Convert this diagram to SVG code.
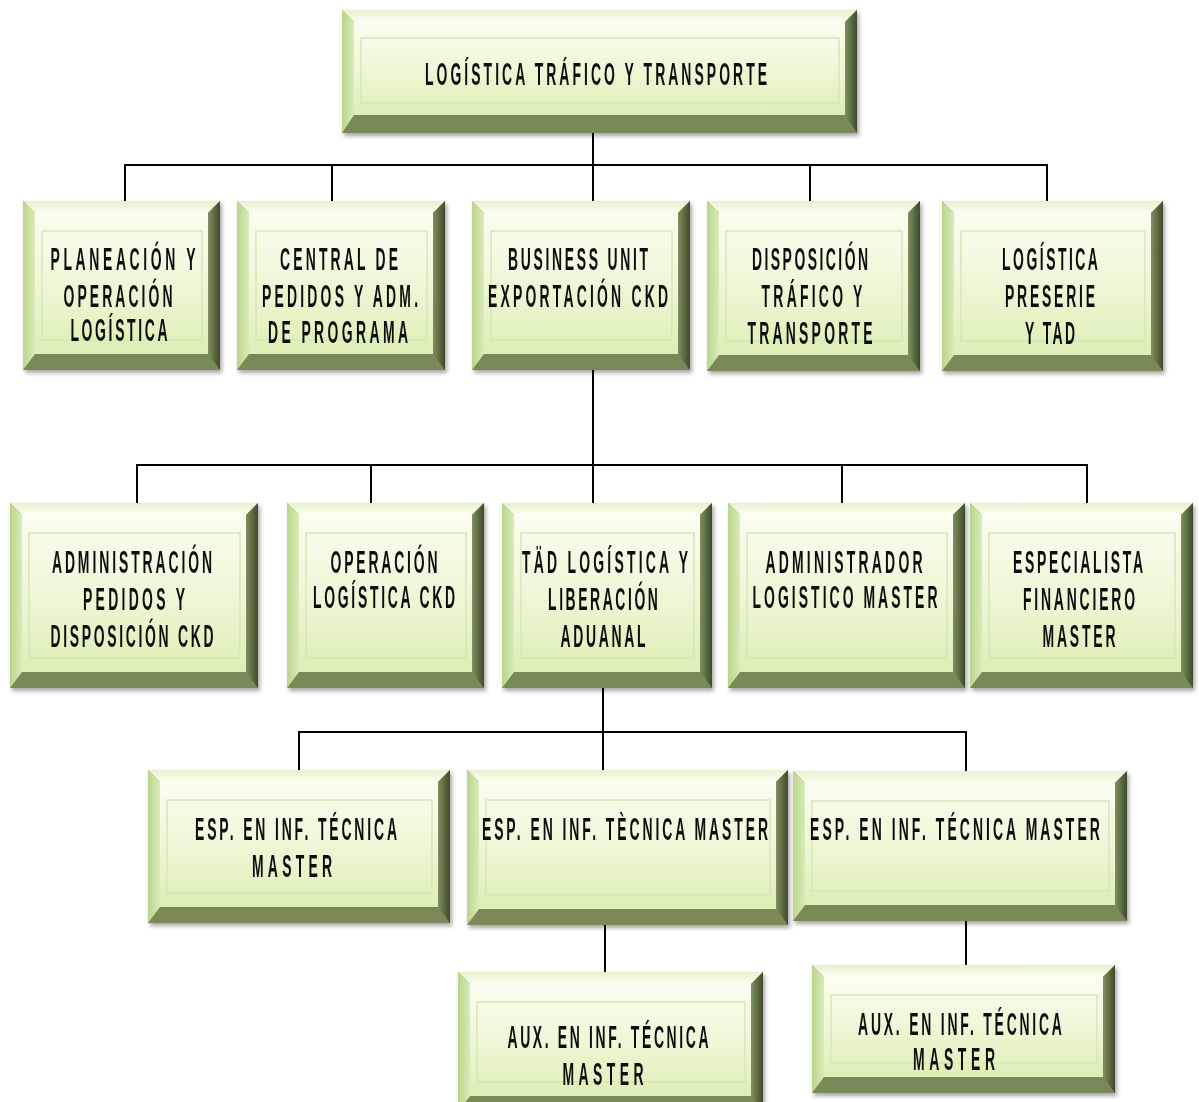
<svg xmlns="http://www.w3.org/2000/svg" width="1199" height="1102" viewBox="0 0 1199 1102">
  <defs>
    <linearGradient id="gTop" x1="0" y1="0" x2="0" y2="1">
      <stop offset="0" stop-color="#e6f2cc"/>
      <stop offset="1" stop-color="#fbfef3"/>
    </linearGradient>
    <linearGradient id="gLeft" x1="0" y1="0" x2="1" y2="0">
      <stop offset="0" stop-color="#b9d58b"/>
      <stop offset="1" stop-color="#d9ebb9"/>
    </linearGradient>
    <linearGradient id="gRight" x1="0" y1="0" x2="1" y2="0">
      <stop offset="0" stop-color="#808f5e"/>
      <stop offset="1" stop-color="#3e4a2a"/>
    </linearGradient>
    <linearGradient id="gFace" x1="0" y1="0" x2="0" y2="1">
      <stop offset="0" stop-color="#fafdf0"/>
      <stop offset="0.45" stop-color="#eff8da"/>
      <stop offset="1" stop-color="#dcefb5"/>
    </linearGradient>
    <filter id="shadow" x="-5%" y="-5%" width="112%" height="115%">
      <feDropShadow dx="2" dy="3" stdDeviation="2" flood-color="#000" flood-opacity="0.35"/>
    </filter>
  </defs>
  <style>
    .node { filter: url(#shadow); }
    .o { fill: #7a8958; }
    .bt { fill: url(#gTop); }
    .bl { fill: url(#gLeft); }
    .br { fill: url(#gRight); }
    .f { fill: url(#gFace); }
    .in { fill: none; stroke: #d6e7b6; stroke-width: 1.5; }
    .t { font-family: "Liberation Sans", Arial, sans-serif; font-weight: bold; font-size: 31px; fill: #111; text-anchor: middle; }
    .c line { stroke: #000; stroke-width: 2; }
  </style>

  <rect width="1199" height="1102" fill="#fff"/>

  <!-- connectors -->
  <g id="connectors" class="c">
    <line x1="593" y1="133" x2="593" y2="165"/>
    <line x1="124" y1="165" x2="1048" y2="165"/>
    <line x1="125" y1="165" x2="125" y2="201"/>
    <line x1="332" y1="165" x2="332" y2="201"/>
    <line x1="593" y1="165" x2="593" y2="201"/>
    <line x1="810" y1="165" x2="810" y2="201"/>
    <line x1="1047" y1="165" x2="1047" y2="201"/>

    <line x1="593" y1="370" x2="593" y2="465"/>
    <line x1="136" y1="465" x2="1088" y2="465"/>
    <line x1="137" y1="465" x2="137" y2="503"/>
    <line x1="371" y1="465" x2="371" y2="503"/>
    <line x1="593" y1="465" x2="593" y2="503"/>
    <line x1="842" y1="465" x2="842" y2="503"/>
    <line x1="1087" y1="465" x2="1087" y2="503"/>

    <line x1="603" y1="688" x2="603" y2="732"/>
    <line x1="298" y1="732" x2="967" y2="732"/>
    <line x1="299" y1="732" x2="299" y2="770"/>
    <line x1="603" y1="732" x2="603" y2="770"/>
    <line x1="966" y1="732" x2="966" y2="771"/>

    <line x1="605" y1="925" x2="605" y2="972"/>
    <line x1="966" y1="921" x2="966" y2="965"/>
  </g>

  <!-- top level -->
  <g id="logistica-trafico-transporte" class="node">
    <rect class="o" x="342" y="10" width="515" height="123"/>
    <polygon class="bt" points="342,10 857,10 845,22 354,22"/>
    <polygon class="bl" points="342,10 354,22 354,115 342,133"/>
    <polygon class="br" points="857,10 857,133 845,115 845,22"/>
    <rect class="f" x="354" y="22" width="491" height="93"/>
    <rect class="in" x="361" y="38" width="478" height="65"/>
    <text class="t" transform="translate(596,85) scale(0.45,1)" textLength="760" lengthAdjust="spacing">LOGÍSTICA TRÁFICO Y TRANSPORTE</text>
  </g>

  <!-- second level -->
  <g id="planeacion-operacion" class="node">
    <rect class="o" x="23" y="201" width="197" height="169"/>
    <polygon class="bt" points="23,201 220,201 208,213 35,213"/>
    <polygon class="bl" points="23,201 35,213 35,354 23,370"/>
    <polygon class="br" points="220,201 220,370 208,354 208,213"/>
    <rect class="f" x="35" y="213" width="173" height="141"/>
    <rect class="in" x="42" y="231" width="160" height="109"/>
    <text class="t" transform="translate(123,270) scale(0.45,1)" textLength="322" lengthAdjust="spacing">PLANEACIÓN Y</text>
    <text class="t" transform="translate(118,307) scale(0.45,1)" textLength="242" lengthAdjust="spacing">OPERACIÓN</text>
    <text class="t" transform="translate(119,341) scale(0.45,1)" textLength="216" lengthAdjust="spacing">LOGÍSTICA</text>
  </g>

  <g id="central-pedidos" class="node">
    <rect class="o" x="237" y="201" width="208" height="169"/>
    <polygon class="bt" points="237,201 445,201 433,213 249,213"/>
    <polygon class="bl" points="237,201 249,213 249,354 237,370"/>
    <polygon class="br" points="445,201 445,370 433,354 433,213"/>
    <rect class="f" x="249" y="213" width="184" height="141"/>
    <rect class="in" x="256" y="231" width="171" height="109"/>
    <text class="t" transform="translate(339,270) scale(0.45,1)" textLength="262" lengthAdjust="spacing">CENTRAL DE</text>
    <text class="t" transform="translate(340,307) scale(0.45,1)" textLength="347" lengthAdjust="spacing">PEDIDOS Y ADM.</text>
    <text class="t" transform="translate(338,343) scale(0.45,1)" textLength="311" lengthAdjust="spacing">DE PROGRAMA</text>
  </g>

  <g id="business-unit-ckd" class="node">
    <rect class="o" x="472" y="201" width="218" height="169"/>
    <polygon class="bt" points="472,201 690,201 678,213 484,213"/>
    <polygon class="bl" points="472,201 484,213 484,354 472,370"/>
    <polygon class="br" points="690,201 690,370 678,354 678,213"/>
    <rect class="f" x="484" y="213" width="194" height="141"/>
    <rect class="in" x="491" y="231" width="181" height="109"/>
    <text class="t" transform="translate(578,270) scale(0.45,1)" textLength="311" lengthAdjust="spacing">BUSINESS UNIT</text>
    <text class="t" transform="translate(578,307) scale(0.45,1)" textLength="400" lengthAdjust="spacing">EXPORTACIÓN CKD</text>
  </g>

  <g id="disposicion-trafico" class="node">
    <rect class="o" x="707" y="201" width="213" height="170"/>
    <polygon class="bt" points="707,201 920,201 908,213 719,213"/>
    <polygon class="bl" points="707,201 719,213 719,355 707,371"/>
    <polygon class="br" points="920,201 920,371 908,355 908,213"/>
    <rect class="f" x="719" y="213" width="189" height="142"/>
    <rect class="in" x="726" y="231" width="176" height="110"/>
    <text class="t" transform="translate(810,270) scale(0.45,1)" textLength="258" lengthAdjust="spacing">DISPOSICIÓN</text>
    <text class="t" transform="translate(812,307) scale(0.45,1)" textLength="224" lengthAdjust="spacing">TRÁFICO Y</text>
    <text class="t" transform="translate(810,344) scale(0.45,1)" textLength="278" lengthAdjust="spacing">TRANSPORTE</text>
  </g>

  <g id="logistica-preserie" class="node">
    <rect class="o" x="942" y="201" width="221" height="170"/>
    <polygon class="bt" points="942,201 1163,201 1151,213 954,213"/>
    <polygon class="bl" points="942,201 954,213 954,355 942,371"/>
    <polygon class="br" points="1163,201 1163,371 1151,355 1151,213"/>
    <rect class="f" x="954" y="213" width="197" height="142"/>
    <rect class="in" x="961" y="231" width="184" height="110"/>
    <text class="t" transform="translate(1050,270) scale(0.45,1)" textLength="213" lengthAdjust="spacing">LOGÍSTICA</text>
    <text class="t" transform="translate(1050,307) scale(0.45,1)" textLength="200" lengthAdjust="spacing">PRESERIE</text>
    <text class="t" transform="translate(1050,344) scale(0.45,1)" textLength="111" lengthAdjust="spacing">Y TAD</text>
  </g>

  <!-- third level -->
  <g id="administracion-pedidos" class="node">
    <rect class="o" x="10" y="503" width="248" height="185"/>
    <polygon class="bt" points="10,503 258,503 246,515 22,515"/>
    <polygon class="bl" points="10,503 22,515 22,672 10,688"/>
    <polygon class="br" points="258,503 258,688 246,672 246,515"/>
    <rect class="f" x="22" y="515" width="224" height="157"/>
    <rect class="in" x="29" y="533" width="211" height="125"/>
    <text class="t" transform="translate(132,573) scale(0.45,1)" textLength="356" lengthAdjust="spacing">ADMINISTRACIÓN</text>
    <text class="t" transform="translate(134,610) scale(0.45,1)" textLength="227" lengthAdjust="spacing">PEDIDOS Y</text>
    <text class="t" transform="translate(132,647) scale(0.45,1)" textLength="362" lengthAdjust="spacing">DISPOSICIÓN CKD</text>
  </g>

  <g id="operacion-logistica-ckd" class="node">
    <rect class="o" x="287" y="503" width="197" height="185"/>
    <polygon class="bt" points="287,503 484,503 472,515 299,515"/>
    <polygon class="bl" points="287,503 299,515 299,672 287,688"/>
    <polygon class="br" points="484,503 484,688 472,672 472,515"/>
    <rect class="f" x="299" y="515" width="173" height="157"/>
    <rect class="in" x="306" y="533" width="160" height="125"/>
    <text class="t" transform="translate(384,573) scale(0.45,1)" textLength="238" lengthAdjust="spacing">OPERACIÓN</text>
    <text class="t" transform="translate(384,608) scale(0.45,1)" textLength="316" lengthAdjust="spacing">LOGÍSTICA CKD</text>
  </g>

  <g id="tad-liberacion-aduanal" class="node">
    <rect class="o" x="502" y="503" width="210" height="185"/>
    <polygon class="bt" points="502,503 712,503 700,515 514,515"/>
    <polygon class="bl" points="502,503 514,515 514,672 502,688"/>
    <polygon class="br" points="712,503 712,688 700,672 700,515"/>
    <rect class="f" x="514" y="515" width="186" height="157"/>
    <rect class="in" x="521" y="533" width="173" height="125"/>
    <text class="t" transform="translate(605,573) scale(0.45,1)" textLength="369" lengthAdjust="spacing">TÄD LOGÍSTICA Y</text>
    <text class="t" transform="translate(603,610) scale(0.45,1)" textLength="244" lengthAdjust="spacing">LIBERACIÓN</text>
    <text class="t" transform="translate(603,647) scale(0.45,1)" textLength="189" lengthAdjust="spacing">ADUANAL</text>
  </g>

  <g id="administrador-logistico" class="node">
    <rect class="o" x="728" y="503" width="237" height="185"/>
    <polygon class="bt" points="728,503 965,503 953,515 740,515"/>
    <polygon class="bl" points="728,503 740,515 740,672 728,688"/>
    <polygon class="br" points="965,503 965,688 953,672 953,515"/>
    <rect class="f" x="740" y="515" width="213" height="157"/>
    <rect class="in" x="747" y="533" width="200" height="125"/>
    <text class="t" transform="translate(844,573) scale(0.45,1)" textLength="349" lengthAdjust="spacing">ADMINISTRADOR</text>
    <text class="t" transform="translate(845,608) scale(0.45,1)" textLength="411" lengthAdjust="spacing">LOGISTICO MASTER</text>
  </g>

  <g id="especialista-financiero" class="node">
    <rect class="o" x="970" y="503" width="223" height="185"/>
    <polygon class="bt" points="970,503 1193,503 1181,515 982,515"/>
    <polygon class="bl" points="970,503 982,515 982,672 970,688"/>
    <polygon class="br" points="1193,503 1193,688 1181,672 1181,515"/>
    <rect class="f" x="982" y="515" width="199" height="157"/>
    <rect class="in" x="989" y="533" width="186" height="125"/>
    <text class="t" transform="translate(1078,573) scale(0.45,1)" textLength="289" lengthAdjust="spacing">ESPECIALISTA</text>
    <text class="t" transform="translate(1079,610) scale(0.45,1)" textLength="249" lengthAdjust="spacing">FINANCIERO</text>
    <text class="t" transform="translate(1079,647) scale(0.45,1)" textLength="162" lengthAdjust="spacing">MASTER</text>
  </g>

  <!-- fourth level -->
  <g id="esp-tecnica-1" class="node">
    <rect class="o" x="148" y="770" width="302" height="153"/>
    <polygon class="bt" points="148,770 450,770 438,782 160,782"/>
    <polygon class="bl" points="148,770 160,782 160,907 148,923"/>
    <polygon class="br" points="450,770 450,923 438,907 438,782"/>
    <rect class="f" x="160" y="782" width="278" height="125"/>
    <rect class="in" x="167" y="800" width="265" height="93"/>
    <text class="t" transform="translate(296,840) scale(0.45,1)" textLength="449" lengthAdjust="spacing">ESP. EN INF. TÉCNICA</text>
    <text class="t" transform="translate(292,877) scale(0.45,1)" textLength="178" lengthAdjust="spacing">MASTER</text>
  </g>

  <g id="esp-tecnica-2" class="node">
    <rect class="o" x="467" y="770" width="321" height="155"/>
    <polygon class="bt" points="467,770 788,770 776,782 479,782"/>
    <polygon class="bl" points="467,770 479,782 479,909 467,925"/>
    <polygon class="br" points="788,770 788,925 776,909 776,782"/>
    <rect class="f" x="479" y="782" width="297" height="127"/>
    <rect class="in" x="486" y="800" width="284" height="95"/>
    <text class="t" transform="translate(625,840) scale(0.45,1)" textLength="636" lengthAdjust="spacing">ESP. EN INF. TÈCNICA MASTER</text>
  </g>

  <g id="esp-tecnica-3" class="node">
    <rect class="o" x="793" y="771" width="334" height="150"/>
    <polygon class="bt" points="793,771 1127,771 1115,783 805,783"/>
    <polygon class="bl" points="793,771 805,783 805,905 793,921"/>
    <polygon class="br" points="1127,771 1127,921 1115,905 1115,783"/>
    <rect class="f" x="805" y="783" width="310" height="122"/>
    <rect class="in" x="812" y="801" width="297" height="90"/>
    <text class="t" transform="translate(955,840) scale(0.45,1)" textLength="644" lengthAdjust="spacing">ESP. EN INF. TÉCNICA MASTER</text>
  </g>

  <!-- fifth level (the left box runs past the bottom edge) -->
  <g id="aux-tecnica-1" class="node">
    <rect class="o" x="458" y="972" width="305" height="140"/>
    <polygon class="bt" points="458,972 763,972 751,984 470,984"/>
    <polygon class="bl" points="458,972 470,984 470,1096 458,1112"/>
    <polygon class="br" points="763,972 763,1112 751,1096 751,984"/>
    <rect class="f" x="470" y="984" width="281" height="112"/>
    <rect class="in" x="477" y="1002" width="268" height="80"/>
    <text class="t" transform="translate(608,1048) scale(0.45,1)" textLength="447" lengthAdjust="spacing">AUX. EN INF. TÉCNICA</text>
    <text class="t" transform="translate(603,1085) scale(0.45,1)" textLength="180" lengthAdjust="spacing">MASTER</text>
  </g>

  <g id="aux-tecnica-2" class="node">
    <rect class="o" x="812" y="965" width="303" height="128"/>
    <polygon class="bt" points="812,965 1115,965 1103,977 824,977"/>
    <polygon class="bl" points="812,965 824,977 824,1077 812,1093"/>
    <polygon class="br" points="1115,965 1115,1093 1103,1077 1103,977"/>
    <rect class="f" x="824" y="977" width="279" height="100"/>
    <rect class="in" x="831" y="995" width="266" height="68"/>
    <text class="t" transform="translate(960,1035) scale(0.45,1)" textLength="453" lengthAdjust="spacing">AUX. EN INF. TÉCNICA</text>
    <text class="t" transform="translate(954,1070) scale(0.45,1)" textLength="182" lengthAdjust="spacing">MASTER</text>
  </g>
</svg>
